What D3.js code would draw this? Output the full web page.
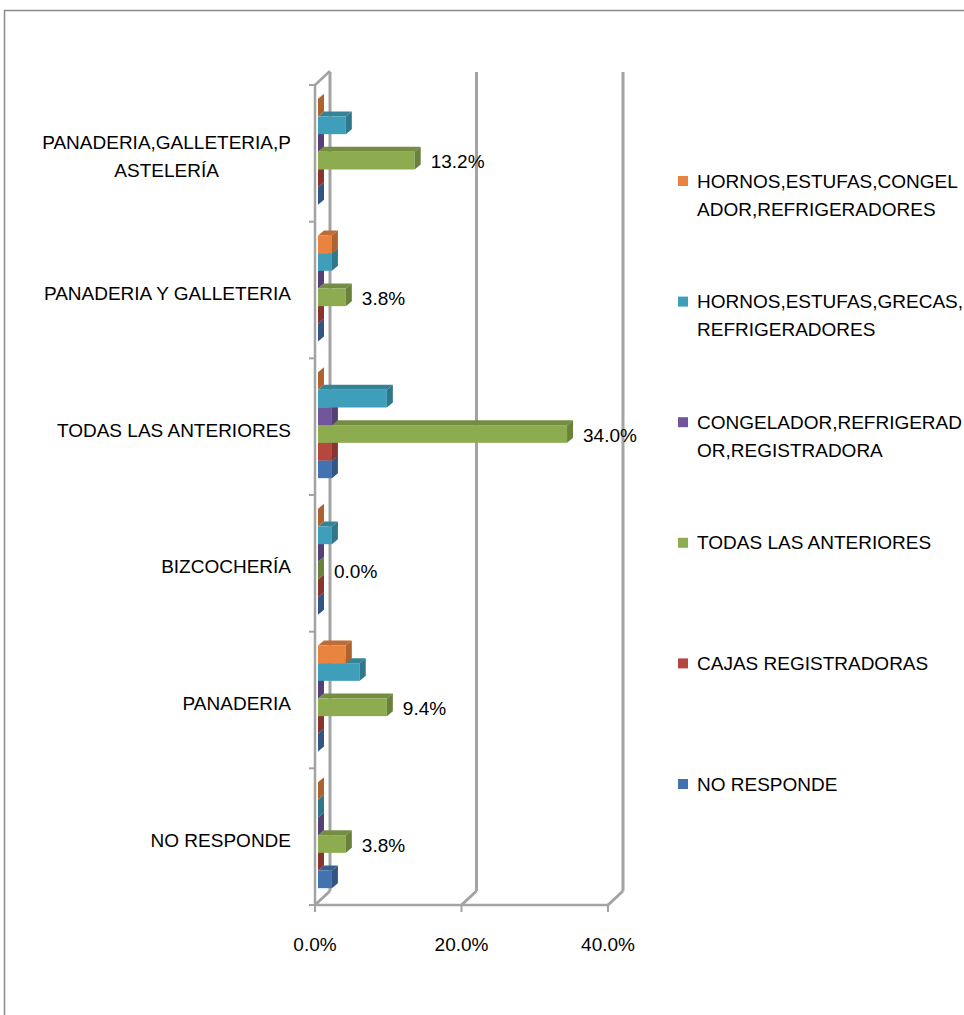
<!DOCTYPE html>
<html>
<head>
    <meta charset="utf-8">
    <script src="https://d3js.org/d3.v7.min.js"></script>
    <style>
        body { margin: 0; background: #fff; }
        svg text {
            font-family: 'Liberation Sans', Arial, sans-serif;
            font-size: 19px;
            fill: #000;
        }
    </style>
</head>
<body>
<svg id="chart" width="964" height="1015"></svg>

<script>
    // categories, top to bottom
    const categories = ["PANADERIA,GALLETERIA,PASTELERÍA", "PANADERIA Y GALLETERIA", "TODAS LAS ANTERIORES", "BIZCOCHERÍA", "PANADERIA", "NO RESPONDE"];
    const categoryLines = [["PANADERIA,GALLETERIA,P", "ASTELERÍA"], ["PANADERIA Y GALLETERIA"], ["TODAS LAS ANTERIORES"], ["BIZCOCHERÍA"], ["PANADERIA"], ["NO RESPONDE"]];

    // series, in legend order
    const seriesNames = ["HORNOS,ESTUFAS,CONGELADOR,REFRIGERADORES", "HORNOS,ESTUFAS,GRECAS,REFRIGERADORES", "CONGELADOR,REFRIGERADOR,REGISTRADORA", "TODAS LAS ANTERIORES", "CAJAS REGISTRADORAS", "NO RESPONDE"];
    const legendLines = [["HORNOS,ESTUFAS,CONGEL", "ADOR,REFRIGERADORES"], ["HORNOS,ESTUFAS,GRECAS,", "REFRIGERADORES"], ["CONGELADOR,REFRIGERAD", "OR,REGISTRADORA"], ["TODAS LAS ANTERIORES"], ["CAJAS REGISTRADORAS"], ["NO RESPONDE"]];
    const seriesColors = ["#e8843f", "#3f9fba", "#71569b", "#8dac4f", "#b5473f", "#4272b0"];

    // percentage values per series, one per category
    const hornosCongelador = [0, 1.9, 0, 0, 3.8, 0];
    const hornosGrecas = [3.8, 1.9, 9.4, 1.9, 5.7, 0];
    const congeladorRegistradora = [0, 0, 1.9, 0, 0, 0];
    const todasAnteriores = [13.2, 3.8, 34.0, 0.0, 9.4, 3.8];
    const cajasRegistradoras = [0, 0, 1.9, 0, 0, 0];
    const noResponde = [0, 0, 1.9, 0, 0, 1.9];
    const seriesValues = [hornosCongelador, hornosGrecas, congeladorRegistradora, todasAnteriores, cajasRegistradoras, noResponde];

    const xTicks = [0, 20, 40];

    const svg = d3.select("#chart");

    // outer chart frame
    svg.append("path")
        .attr("d", "M4.5,1015 L4.5,10.5 L964,10.5")
        .attr("fill", "none")
        .attr("stroke", "#8c8c8c")
        .attr("stroke-width", 1.5);

    const plot = { left: 315, right: 608, top: 85, bottom: 905 };
    const wall = { dx: 15, dy: 14 };
    const bar = { ox: 3, dx: 6, dy: 5 };

    const x = d3.scaleLinear().domain([0, 40]).range([plot.left, plot.right]);
    const y = d3.scaleBand().domain(categories).range([plot.top, plot.bottom]);
    const bw = y.bandwidth();
    const inner = d3.scaleBand().domain(seriesNames).range([bw / 2 - 54.5, bw / 2 + 51.5]);

    const gridColor = "#a3a3a3";

    // back wall gridlines with floor connectors
    xTicks.forEach(t => {
        svg.append("line")
            .attr("x1", x(t) + wall.dx).attr("x2", x(t) + wall.dx)
            .attr("y1", plot.top - wall.dy + 1).attr("y2", plot.bottom - wall.dy)
            .attr("stroke", gridColor).attr("stroke-width", 3);
        svg.append("line")
            .attr("x1", x(t)).attr("y1", plot.bottom)
            .attr("x2", x(t) + wall.dx).attr("y2", plot.bottom - wall.dy)
            .attr("stroke", gridColor).attr("stroke-width", 3);
    });

    // top edge of the side wall
    svg.append("line")
        .attr("x1", x(0)).attr("y1", plot.top)
        .attr("x2", x(0) + wall.dx).attr("y2", plot.top - wall.dy)
        .attr("stroke", gridColor).attr("stroke-width", 2.5);

    // front axis lines
    svg.append("line")
        .attr("x1", x(0)).attr("x2", x(0))
        .attr("y1", plot.top).attr("y2", plot.bottom)
        .attr("stroke", gridColor).attr("stroke-width", 2.5);
    svg.append("line")
        .attr("x1", x(0) - 1).attr("x2", x(40) + 1)
        .attr("y1", plot.bottom).attr("y2", plot.bottom)
        .attr("stroke", gridColor).attr("stroke-width", 2.5);

    // category tick marks
    const boundaries = categories.map(c => y(c)).concat([plot.bottom]);
    svg.selectAll(".ytick")
        .data(boundaries)
        .enter()
        .append("line")
        .attr("x1", x(0) - 6).attr("x2", x(0))
        .attr("y1", d => d).attr("y2", d => d)
        .attr("stroke", gridColor).attr("stroke-width", 2);

    // value ticks and labels
    svg.selectAll(".xtick")
        .data(xTicks)
        .enter()
        .append("line")
        .attr("x1", d => x(d)).attr("x2", d => x(d))
        .attr("y1", plot.bottom).attr("y2", plot.bottom + 7)
        .attr("stroke", gridColor).attr("stroke-width", 2);

    svg.selectAll(".xlabel")
        .data(xTicks)
        .enter()
        .append("text")
        .attr("x", d => x(d))
        .attr("y", 944)
        .attr("dy", "0.35em")
        .attr("text-anchor", "middle")
        .text(d => d3.format(".1f")(d) + "%");

    // bars, drawn from the bottom series up so upper bars cover lower top faces
    const shade = (c, k) => d3.rgb(c).darker(k).formatHex();
    categories.forEach((cat, ci) => {
        for (let si = seriesNames.length - 1; si >= 0; si--) {
            const v = seriesValues[si][ci];
            const x0 = x(0) + bar.ox;
            const x1 = x(v) + bar.ox;
            const y0 = y(cat) + inner(seriesNames[si]);
            const y1 = y0 + inner.bandwidth();
            const g = svg.append("g");
            const col = seriesColors[si];
            // top face
            g.append("path")
                .attr("d", `M${x0},${y0} L${x0 + bar.dx},${y0 - bar.dy} L${x1 + bar.dx},${y0 - bar.dy} L${x1},${y0} Z`)
                .attr("fill", shade(col, 0.55));
            // front face
            g.append("rect")
                .attr("x", x0).attr("y", y0)
                .attr("width", x1 - x0).attr("height", y1 - y0)
                .attr("fill", col);
            // side face
            g.append("path")
                .attr("d", `M${x1},${y0} L${x1 + bar.dx},${y0 - bar.dy} L${x1 + bar.dx},${y1 - bar.dy} L${x1},${y1} Z`)
                .attr("fill", shade(col, 0.8));
        }
    });

    // data labels on the TODAS LAS ANTERIORES series
    const labelSeries = 3;
    svg.selectAll(".dlabel")
        .data(categories)
        .enter()
        .append("text")
        .attr("x", (d, i) => x(seriesValues[labelSeries][i]) + bar.ox + bar.dx + 10)
        .attr("y", d => y(d) + inner(seriesNames[labelSeries]) + inner.bandwidth() / 2 + 1)
        .attr("dy", "0.35em")
        .text((d, i) => d3.format(".1f")(seriesValues[labelSeries][i]) + "%");

    // category labels, right aligned block with centred lines
    const lineH = 28;
    categories.forEach((cat, ci) => {
        const lines = categoryLines[ci];
        const cy = y(cat) + bw / 2 + 3.5;
        const g = svg.append("g");
        const texts = lines.map((l, li) => g.append("text")
            .attr("y", cy + (li - (lines.length - 1) / 2) * lineH)
            .attr("dy", "0.35em")
            .attr("text-anchor", "middle")
            .text(l));
        const maxW = d3.max(texts, t => t.node().getComputedTextLength());
        texts.forEach(t => t.attr("x", 291 - maxW / 2));
    });

    // legend
    const legendTop = 181, legendStep = 120.6;
    seriesNames.forEach((s, si) => {
        const ly = legendTop + si * legendStep;
        svg.append("rect")
            .attr("x", 678).attr("y", ly - 5)
            .attr("width", 10).attr("height", 10)
            .attr("fill", seriesColors[si]);
        legendLines[si].forEach((l, li) => {
            svg.append("text")
                .attr("x", 697)
                .attr("y", ly + li * lineH)
                .attr("dy", "0.35em")
                .text(l);
        });
    });
</script>
</body>
</html>
